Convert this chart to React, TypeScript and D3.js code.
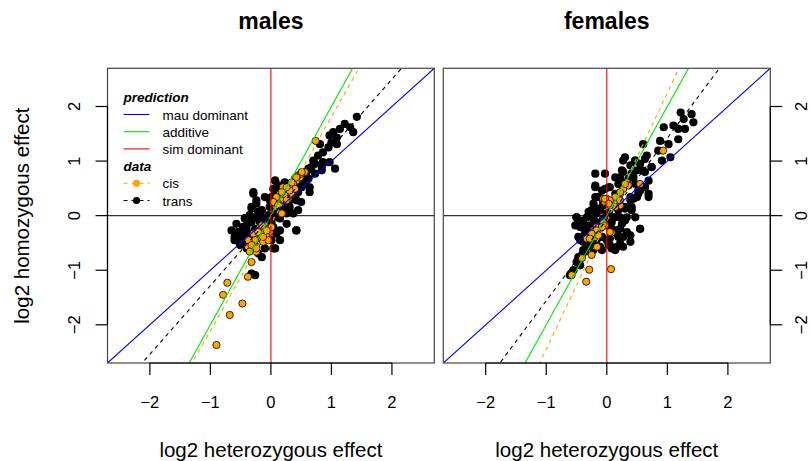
import React from 'react';
import * as d3 from 'd3';

// ticks shared by both panels
const tickValues = [-2, -1, 0, 1, 2];
const axisDomain: [number, number] = [-2.7, 2.7];

// [heterozygous, homozygous] log2 effects
const malesCis: [number, number][] = [
  [0.74, 1.37], [-0.9, -2.37], [-0.68, -1.82], [-0.47, -1.61], [-0.79, -1.45],
  [-0.72, -1.23], [-0.38, -1.12], [-0.32, -0.85], [-0.24, -0.66], [-0.18, -0.21],
  [-0.1, -0.18], [-0.04, -0.24], [-0.02, -0.3], [-0.13, -0.33], [-0.21, -0.36],
  [-0.26, -0.42], [-0.15, -0.42], [-0.07, -0.39], [-0.32, -0.51], [-0.38, -0.57],
  [-0.24, -0.57], [-0.13, -0.48], [0.01, -0.21], [-0.04, -0.45], [-0.29, -0.33],
  [0.56, 0.8], [0.48, 0.7], [0.42, 0.64], [0.37, 0.58], [0.31, 0.52],
  [0.26, 0.46], [0.23, 0.37], [0.18, 0.28], [0.12, 0.22], [0.29, 0.31],
  [0.34, 0.4], [0.4, 0.49], [0.2, 0.52], [0.15, 0.4], [0.09, 0.16],
  [0.18, 0.04], [0.45, 0.74], [0.5, 0.77], [0.26, 0.28], [0.31, 0.46],
  [0.51, 0.8], [0.42, 0.7], [0.34, 0.61], [0.26, 0.52], [0.18, 0.43],
  [0.09, 0.34], [0.04, 0.25], [0.12, 0.19], [0.18, 0.04], [-0.15, -0.18],
  [-0.07, -0.27], [-0.21, -0.3], [-0.13, -0.39], [-0.26, -0.45], [-0.37, -0.45],
  [-0.32, -0.54], [-0.24, -0.6], [-0.35, -0.66],
];

const malesTrans: [number, number][] = [
  [1.42, 1.81], [1.22, 1.68], [1.31, 1.62], [1.14, 1.59], [1.36, 1.53],
  [1.03, 1.53], [1.09, 1.43], [1.0, 1.34], [0.95, 1.25], [1.09, 1.31],
  [0.97, 1.47], [0.81, 1.31], [0.86, 1.16], [0.78, 1.1], [0.7, 1.01],
  [0.97, 0.98], [1.06, 0.86], [0.84, 0.89], [0.67, 0.89], [0.59, 0.8],
  [0.62, 0.68], [0.56, 0.61], [0.64, 0.52], [0.48, 0.55], [0.4, 0.58],
  [0.45, 0.43], [0.42, 0.28], [0.5, 0.25], [0.45, 0.1], [0.37, 0.04],
  [0.31, 0.16], [0.07, 0.64], [0.04, 0.49], [0.15, 0.55], [0.23, 0.61],
  [0.01, 0.34], [0.12, 0.34], [0.09, 0.25], [-0.02, 0.16], [0.07, 0.04],
  [0.15, -0.05], [0.26, 0.04], [-0.29, 0.43], [-0.24, 0.28], [-0.32, 0.16],
  [-0.21, 0.07], [-0.35, 0.01], [-0.43, -0.05], [-0.32, -0.12], [-0.4, -0.18],
  [-0.46, -0.21], [-0.54, -0.3], [-0.6, -0.39], [-0.48, -0.36], [-0.4, -0.27],
  [-0.57, -0.45], [-0.43, -0.51], [-0.32, -0.6], [-0.21, -0.69], [-0.15, -0.76],
  [0.04, -0.6], [0.15, -0.45], [0.09, -0.33], [-0.07, -0.09], [-0.15, -0.03],
  [-0.02, -0.05], [0.04, -0.21], [0.15, -0.27], [0.42, -0.27], [0.26, -0.15],
  [-0.26, -1.09], [-0.32, -1.06], [-0.51, -0.39], [-0.35, -0.39], [-0.18, -0.12],
  [-0.26, -0.24], [0.01, -0.45], [-0.1, -0.6],
  [-0.54, -0.3], [-0.46, -0.21], [-0.38, -0.12], [-0.29, -0.03], [-0.32, 0.13],
  [-0.24, 0.22], [-0.15, 0.1], [-0.21, -0.05], [-0.13, -0.12], [-0.26, -0.27],
  [-0.43, -0.39], [-0.6, -0.45], [-0.51, -0.54], [-0.35, -0.48], [-0.4, -0.6],
  [-0.18, -0.39], [-0.07, -0.24], [-0.04, 0.01], [0.07, 0.22], [0.15, 0.34],
  [0.07, 0.43], [0.2, 0.52], [0.31, 0.58], [0.4, 0.68], [0.51, 0.77],
  [0.62, 0.86], [0.73, 0.95], [0.86, 0.98], [0.59, 0.64], [0.51, 0.52],
  [0.42, 0.4], [0.31, 0.28], [0.26, 0.16], [0.18, 0.1], [0.12, -0.03],
  [0.01, -0.12], [-0.02, 0.28], [-0.1, 0.34], [-0.29, 0.4], [0.07, 0.64],
  [0.64, 0.43], [0.42, -0.27], [0.07, -0.6], [-0.65, -0.27], [-0.57, -0.15],
  [-0.43, -0.05], [0.73, 0.77], [0.84, 0.83],
];

const femalesCis: [number, number][] = [
  [0.93, 1.19], [0.33, 0.61], [0.36, 0.55], [0.27, 0.49], [0.22, 0.4],
  [0.17, 0.34], [0.11, 0.28], [0.05, 0.22], [0.0, 0.31], [-0.06, 0.31],
  [-0.03, 0.25], [0.17, 0.22], [0.22, 0.19], [0.14, 0.16], [0.05, 0.19],
  [-0.06, -0.12], [-0.03, -0.18], [-0.11, -0.24], [-0.17, -0.21], [-0.22, -0.27],
  [-0.25, -0.33], [-0.19, -0.39], [-0.14, -0.33], [-0.28, -0.39], [-0.33, -0.42],
  [-0.16, -0.57], [-0.25, -0.72], [-0.41, -0.78], [-0.29, -0.99], [-0.58, -1.09],
  [-0.34, -1.21], [0.07, -0.98], [0.08, -0.31],
  [0.3, 0.58], [0.22, 0.43], [0.14, 0.34], [0.05, 0.28], [-0.03, 0.31],
  [0.22, 0.28], [0.03, 0.22], [-0.08, -0.21], [-0.17, -0.27], [-0.25, -0.33],
  [-0.14, -0.36], [-0.28, -0.42], [0.05, -0.3], [0.55, 0.58],
];

const femalesTrans: [number, number][] = [
  [1.22, 1.89], [1.4, 1.86], [1.27, 1.77], [1.43, 1.71], [1.1, 1.65],
  [1.18, 1.59], [1.29, 1.59], [0.94, 1.62], [1.18, 1.4], [1.02, 1.31],
  [0.88, 1.37], [0.85, 1.19], [0.6, 1.31], [0.66, 1.1], [0.91, 1.01],
  [1.05, 1.07], [0.74, 0.89], [0.27, 1.01], [0.47, 1.01], [0.39, 0.92],
  [0.55, 0.95], [0.5, 0.83], [0.63, 0.8], [0.44, 0.7], [0.27, 0.8],
  [0.22, 0.7], [0.19, 0.58], [0.36, 0.68], [0.69, 0.64], [0.63, 0.52],
  [0.55, 0.46], [0.5, 0.34], [0.39, 0.28], [0.27, 0.52], [0.05, 0.52],
  [-0.03, 0.49], [-0.08, 0.46], [-0.19, 0.52], [-0.19, 0.34], [-0.06, 0.25],
  [-0.11, 0.1], [-0.14, 0.13], [-0.25, 0.1], [-0.22, -0.05], [-0.33, -0.03],
  [-0.5, -0.03], [-0.47, -0.12], [-0.39, -0.15], [-0.44, -0.21], [-0.33, -0.24],
  [-0.3, -0.33], [-0.39, -0.39], [-0.44, -0.45], [-0.28, -0.51], [-0.17, -0.45],
  [-0.08, -0.39], [0.0, -0.45], [0.05, -0.54], [0.17, -0.57], [0.22, -0.51],
  [0.27, -0.39], [0.33, -0.33], [0.39, -0.36], [0.25, -0.15], [0.22, -0.03],
  [0.19, 0.1], [0.33, -0.03], [0.3, 0.16], [0.41, 0.1], [0.11, -0.03],
  [0.0, 0.04], [0.08, -0.12], [0.44, 0.31], [0.55, -0.24], [0.69, 0.34],
  [0.52, 0.46], [-0.08, -0.63], [0.08, -0.6], [-0.55, -1.0], [-0.5, -0.85],
  [-0.41, -0.72], [-0.44, -0.91], [-0.61, -1.09], [0.39, -0.48], [0.14, -0.27],
  [-0.06, -0.05], [-0.17, -0.12], [0.05, -0.21], [0.17, -0.33], [-0.11, -0.57],
  [-0.33, -0.57], [-0.39, -0.63],
  [0.3, 1.07], [0.47, 1.01], [0.63, 1.04], [0.74, 0.89], [0.58, 0.83],
  [0.41, 0.77], [0.25, 0.83], [0.14, 0.7], [0.27, 0.61], [0.47, 0.58],
  [0.63, 0.52], [0.69, 0.4], [0.52, 0.4], [0.39, 0.34], [-0.19, 0.55],
  [-0.14, 0.34], [-0.22, 0.22], [-0.06, 0.19], [0.03, 0.52], [0.14, 0.4],
  [0.19, 0.19], [0.3, 0.13], [0.41, 0.16], [0.47, -0.03], [0.3, -0.09],
  [0.14, -0.03], [0.03, 0.04], [-0.17, 0.04], [-0.3, 0.07], [-0.39, -0.09],
  [-0.28, -0.18], [-0.14, -0.15], [-0.03, -0.12], [0.08, -0.24], [0.22, -0.24],
  [0.33, -0.3], [0.19, -0.39], [0.05, -0.42], [-0.08, -0.39], [-0.22, -0.33],
  [-0.36, -0.3], [-0.47, -0.39], [-0.39, -0.48], [-0.25, -0.51], [-0.14, -0.57],
  [0.03, -0.54], [0.14, -0.63], [0.27, -0.57], [-0.5, -0.03], [-0.52, -0.18],
  [0.55, -0.24], [-0.22, -0.63], [-0.36, -0.66], [-0.47, -0.76], [-0.19, 0.77],
  [-0.03, 0.77], [-0.17, 0.34],
];

// fitted lines (intercept, slope) for cis and trans
const malesCisFit = { a: -0.15, b: 1.96 };
const malesTransFit = { a: -0.02, b: 1.26 };
const femalesCisFit = { a: -0.1, b: 2.35 };
const femalesTransFit = { a: -0.07, b: 1.49 };

const predictionNames = ['mau dominant', 'additive', 'sim dominant'];
const predictionColors = ['#0000ff', '#00e600', '#ff0000'];
const dataNames = ['cis', 'trans'];
const dataColors = ['#ffa500', '#000000'];

const FONT = '"Liberation Sans", Arial, Helvetica, sans-serif';
const W = 811;
const H = 461;
const top = 68.3;
const bottom = 363;

interface PanelProps {
  id: string;
  title: string;
  left: number;
  right: number;
  cis: [number, number][];
  trans: [number, number][];
  cisFit: { a: number; b: number };
  transFit: { a: number; b: number };
  leftAxis: boolean;
  rightAxis: boolean;
  legend: boolean;
}

const minus = (t: number) => (t < 0 ? `\u2212${-t}` : `${t}`);

const Panel: React.FC<PanelProps> = ({ id, title, left, right, cis, trans, cisFit, transFit, leftAxis, rightAxis, legend }) => {
  const x = d3.scaleLinear().domain(axisDomain).range([left, right]);
  const y = d3.scaleLinear().domain(axisDomain).range([bottom, top]);
  const [x0, x1] = axisDomain;

  const abline = (a: number, b: number) =>
    d3.line<number>().x(v => x(v)).y(v => y(a + b * v))([x0, x1]) || '';

  const cx = (left + right) / 2;
  const lgX = left + 16;
  const lgY = top + 29;
  const step = 17.2;

  return (
    <g>
      <defs>
        <clipPath id={`clip-${id}`}>
          <rect x={left} y={top} width={right - left} height={bottom - top} />
        </clipPath>
      </defs>
      <text x={cx} y={29} textAnchor="middle" fontSize={23} fontWeight="bold" fontFamily={FONT}>{title}</text>

      <g clipPath={`url(#clip-${id})`}>
        <line x1={left} x2={right} y1={y(0)} y2={y(0)} stroke="#333" strokeWidth={1.2} />
        {trans.map((d, i) => (
          <circle key={`t${i}`} cx={x(d[0])} cy={y(d[1])} r={4.1} fill="#000" />
        ))}
        {cis.map((d, i) => (
          <circle key={`c${i}`} cx={x(d[0])} cy={y(d[1])} r={3.6} fill="#ffa500" stroke="#000" strokeWidth={0.8} />
        ))}
        <path d={abline(0, 1)} stroke="#0000ff" strokeWidth={1.1} fill="none" />
        <path d={abline(0, 2)} stroke="#00e600" strokeWidth={1.1} fill="none" />
        <line x1={x(0)} x2={x(0)} y1={top} y2={bottom} stroke="#ff0000" strokeWidth={1.1} />
        <path d={abline(cisFit.a, cisFit.b)} stroke="#ffa500" strokeWidth={1.1} strokeDasharray="4,4" fill="none" />
        <path d={abline(transFit.a, transFit.b)} stroke="#000" strokeWidth={1.1} strokeDasharray="4,4" fill="none" />
      </g>

      <rect x={left} y={top} width={right - left} height={bottom - top} fill="none" stroke="#444" strokeWidth={1.2} />

      {/* bottom axis */}
      <line x1={x(tickValues[0])} x2={x(tickValues[tickValues.length - 1])} y1={bottom} y2={bottom} stroke="#000" strokeWidth={1.2} />
      {tickValues.map(t => (
        <g key={`bx${t}`}>
          <line x1={x(t)} x2={x(t)} y1={bottom} y2={bottom + 12} stroke="#000" strokeWidth={1.2} />
          <text x={x(t)} y={408} textAnchor="middle" fontSize={16.5} fontFamily={FONT}>{minus(t)}</text>
        </g>
      ))}
      <text x={cx} y={456.5} textAnchor="middle" fontSize={20.5} fontFamily={FONT}>log2 heterozygous effect</text>

      {leftAxis && (
        <g>
          <line x1={left} x2={left} y1={y(tickValues[0])} y2={y(tickValues[tickValues.length - 1])} stroke="#000" strokeWidth={1.2} />
          {tickValues.map(t => (
            <g key={`ly${t}`}>
              <line x1={left - 12} x2={left} y1={y(t)} y2={y(t)} stroke="#000" strokeWidth={1.2} />
              <text transform={`translate(${left - 28},${y(t)}) rotate(-90)`} textAnchor="middle" fontSize={16.5} fontFamily={FONT}>{minus(t)}</text>
            </g>
          ))}
          <text transform={`translate(29,${(top + bottom) / 2}) rotate(-90)`} textAnchor="middle" fontSize={20.5} fontFamily={FONT}>log2 homozygous effect</text>
        </g>
      )}

      {rightAxis && (
        <g>
          <line x1={right} x2={right} y1={y(tickValues[0])} y2={y(tickValues[tickValues.length - 1])} stroke="#000" strokeWidth={1.2} />
          {tickValues.map(t => (
            <g key={`ry${t}`}>
              <line x1={right} x2={right + 12} y1={y(t)} y2={y(t)} stroke="#000" strokeWidth={1.2} />
              <text transform={`translate(${right + 36.5},${y(t)}) rotate(-90)`} textAnchor="middle" fontSize={16.5} fontFamily={FONT}>{minus(t)}</text>
            </g>
          ))}
        </g>
      )}

      {legend && (
        <g fontFamily={FONT} fontSize={13.5}>
          <text x={lgX} y={lgY + 5} fontWeight="bold" fontStyle="italic">prediction</text>
          {predictionNames.map((n, i) => (
            <g key={n}>
              <line x1={lgX} x2={lgX + 26} y1={lgY + step * (i + 1)} y2={lgY + step * (i + 1)} stroke={predictionColors[i]} strokeWidth={1.1} />
              <text x={lgX + 39} y={lgY + step * (i + 1) + 5}>{n}</text>
            </g>
          ))}
          <text x={lgX} y={lgY + step * 4 + 5} fontWeight="bold" fontStyle="italic">data</text>
          {dataNames.map((n, i) => (
            <g key={n}>
              <line x1={lgX} x2={lgX + 26} y1={lgY + step * (i + 5)} y2={lgY + step * (i + 5)} stroke={dataColors[i]} strokeWidth={1.1} strokeDasharray="4,4" />
              <circle cx={lgX + 13} cy={lgY + step * (i + 5)} r={3.6} fill={dataColors[i]} />
              <text x={lgX + 39} y={lgY + step * (i + 5) + 5}>{n}</text>
            </g>
          ))}
        </g>
      )}
    </g>
  );
};

export default function App() {
  return (
    <svg width={W} height={H} style={{ position: 'absolute', left: 0, top: 0, background: '#fff' }}>
      <rect width={W} height={H} fill="#fff" />
      <Panel id="m" title="males" left={107.5} right={434.3} cis={malesCis} trans={malesTrans}
        cisFit={malesCisFit} transFit={malesTransFit} leftAxis rightAxis={false} legend />
      <Panel id="f" title="females" left={443.3} right={770.3} cis={femalesCis} trans={femalesTrans}
        cisFit={femalesCisFit} transFit={femalesTransFit} leftAxis={false} rightAxis legend={false} />
    </svg>
  );
}
